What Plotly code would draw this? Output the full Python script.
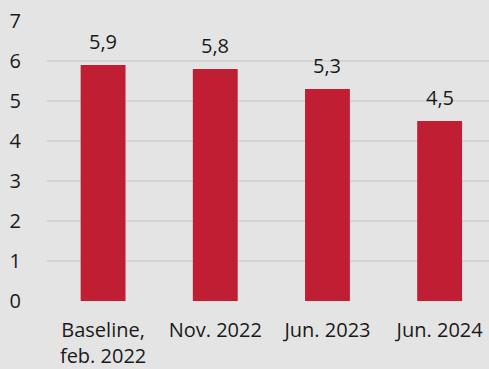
import plotly.graph_objects as go

categories = ["Baseline,<br>feb. 2022", "Nov. 2022", "Jun. 2023", "Jun. 2024"]
values = [5.9, 5.8, 5.3, 4.5]
value_labels = ["5,9", "5,8", "5,3", "4,5"]
y_ticks = [0, 1, 2, 3, 4, 5, 6, 7]

BG = "#e4e4e4"
BAR = "#c01f33"
FONT = "Open Sans, Segoe UI, sans-serif"

fig = go.Figure()
fig.add_trace(go.Bar(x=list(range(len(categories))), y=values, marker_color=BAR,
                     marker_line_width=0, width=0.40, hoverinfo="skip"))

for i, (v, t) in enumerate(zip(values, value_labels)):
    fig.add_annotation(x=i, y=v, text=t, showarrow=False, yanchor="bottom",
                       yshift=8, font=dict(size=20, color="#1a1a1a", family=FONT))

fig.update_layout(
    width=489, height=369,
    paper_bgcolor=BG, plot_bgcolor=BG,
    margin=dict(l=47, r=0, t=21, b=68),
    showlegend=False,
    font=dict(family=FONT, size=20, color="#1a1a1a"),
)
fig.update_xaxes(tickmode="array", tickvals=list(range(len(categories))), ticktext=categories,
                 range=[-0.5, 3.44], showgrid=False, zeroline=False, showline=False,
                 ticks="outside", ticklen=11, tickcolor="rgba(0,0,0,0)", automargin=False)
fig.update_yaxes(range=[0, 7], tickvals=y_ticks, showgrid=True, gridcolor="#d5d5d5",
                 gridwidth=1.5, zeroline=False, showline=False,
                 ticks="outside", ticklen=21, tickcolor="rgba(0,0,0,0)", automargin=False)

fig.write_html("out.html", config={"displayModeBar": False},
               post_script="document.body.style.margin='0';document.body.style.overflow='hidden';")
